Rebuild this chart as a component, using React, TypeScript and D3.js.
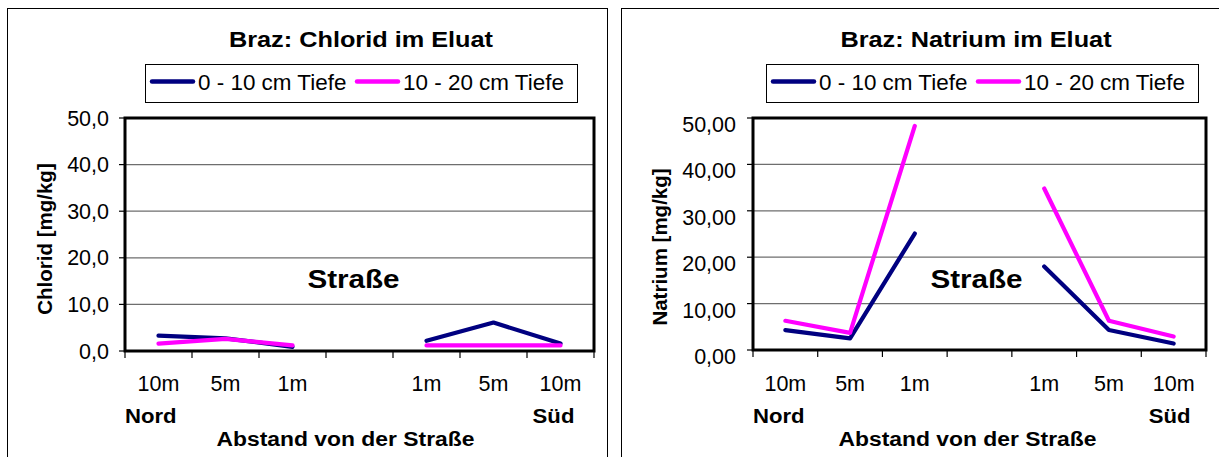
import React from 'react';
import * as d3 from 'd3';

// distance categories, Nord side -> gap (road) -> Süd side
const categories = ['10m', '5m', '1m', '', '1m', '5m', '10m'];
const seriesNames = ['0 - 10 cm Tiefe', '10 - 20 cm Tiefe'];
const seriesColors = ['#000080', '#ff00ff'];

const chloridTop = [3.3, 2.7, 0.9, null, 2.2, 6.1, 1.6];
const chloridSub = [1.6, 2.6, 1.2, null, 1.2, 1.2, 1.2];
const natriumTop = [4.3, 2.5, 25.1, null, 18.0, 4.3, 1.4];
const natriumSub = [6.3, 3.7, 48.3, null, 34.8, 6.3, 2.9];

const yTicks = [0, 10, 20, 30, 40, 50];

const FONT = "'Liberation Sans', Arial, Helvetica, sans-serif";

interface PanelProps {
  title: string;
  yLabel: string;
  series: (number | null)[][];
  fmt: (v: number) => string;
  plot: { x0: number; x1: number; y0: number; y1: number };
  frameX: number;
  frameW: number;
  yTitle: { x: number; y: number };
  tickEnd: number;
  tickDy: number;
  titleX: number;
  legendX: number;
  strasseDx: number;
  abstandDx: number;
  suedDx: number;
}

// horizontally stretched text (the source render has wide bold glyphs)
const SText: React.FC<{ x: number; y: number; sx?: number; size: number; bold?: boolean; anchor?: string; children: React.ReactNode }> = ({ x, y, sx = 1, size, bold, anchor = 'middle', children }) => (
  <text
    transform={`translate(${x},${y}) scale(${sx},1)`}
    fontFamily={FONT}
    fontSize={size}
    fontWeight={bold ? 'bold' : 'normal'}
    textAnchor={anchor}
    fill="#000"
  >
    {children}
  </text>
);

const Panel: React.FC<PanelProps> = (p) => {
  const { x0, x1, y0, y1 } = p.plot;
  const x = d3.scaleBand<number>().domain(categories.map((_, i) => i)).range([x0, x1]).padding(0);
  const y = d3.scaleLinear().domain([0, 50]).range([y1, y0]);
  const bw = x.bandwidth();
  const cx = (i: number) => (x(i) ?? 0) + bw / 2;
  const line = d3
    .line<number | null>()
    .defined(d => d != null)
    .x((_, i) => cx(i))
    .y(d => y(d as number));

  const boundaries = d3.range(categories.length + 1).map(i => x0 + i * bw);
  const midX = (x0 + x1) / 2;
  const lx = p.legendX;

  return (
    <g>
      <rect x={p.frameX + 0.5} y={8.5} width={p.frameW} height={470} fill="#fff" stroke="#000" strokeWidth={1} />

      <SText x={p.titleX} y={47} size={22} sx={1.15} bold>{p.title}</SText>

      {/* legend */}
      <rect x={lx + 0.5} y={64.5} width={432} height={38} fill="#fff" stroke="#000" strokeWidth={1} />
      {seriesNames.map((name, i) => {
        const off = i === 0 ? 7 : 212;
        return (
          <g key={name}>
            <line x1={lx + off} x2={lx + off + 41} y1={81.5} y2={81.5} stroke={seriesColors[i]} strokeWidth={4.5} strokeLinecap="round" />
            <SText x={lx + off + 46} y={90} size={22} sx={1.02} anchor="start">{name}</SText>
          </g>
        );
      })}

      {/* gridlines */}
      {yTicks.filter(t => t > 0 && t < 50).map(t => (
        <line key={t} x1={x0} x2={x1} y1={y(t)} y2={y(t)} stroke="#6e6e6e" strokeWidth={1.3} />
      ))}

      {/* y ticks + labels */}
      {yTicks.map(t => (
        <g key={t}>
          <line x1={x0 - 6} x2={x0} y1={y(t)} y2={y(t)} stroke="#000" strokeWidth={1.2} />
          <text x={p.tickEnd} y={y(t) + p.tickDy} fontFamily={FONT} fontSize={21.5} textAnchor="end" fill="#000">
            {p.fmt(t)}
          </text>
        </g>
      ))}

      {/* x ticks */}
      {boundaries.map((bx, i) => (
        <line key={i} x1={bx} x2={bx} y1={y1} y2={y1 + 7} stroke="#000" strokeWidth={1.2} />
      ))}
      {categories.map((c, i) => (
        <text key={i} x={cx(i)} y={391} fontFamily={FONT} fontSize={21.5} textAnchor="middle" fill="#000">{c}</text>
      ))}

      {/* series */}
      {p.series.map((s, i) => (
        <path key={i} d={line(s) ?? ''} fill="none" stroke={seriesColors[i]} strokeWidth={4.2} strokeLinejoin="round" strokeLinecap="round" />
      ))}

      {/* plot frame */}
      <rect x={x0} y={y0} width={x1 - x0} height={y1 - y0} fill="none" stroke="#000" strokeWidth={3} />

      <SText x={midX + p.strasseDx} y={288} size={26} sx={1.14} bold>Straße</SText>

      <SText x={x0} y={423} size={20.5} sx={1.08} bold anchor="start">Nord</SText>
      <SText x={cx(categories.length - 1) + p.suedDx} y={423} size={20.5} sx={1.08} bold>Süd</SText>
      <SText x={midX + p.abstandDx} y={446} size={21} sx={1.09} bold>Abstand von der Straße</SText>

      <text
        transform={`translate(${p.yTitle.x},${p.yTitle.y}) rotate(-90)`}
        fontFamily={FONT}
        fontSize={20.5}
        fontWeight="bold"
        textAnchor="middle"
        fill="#000"
      >
        {p.yLabel}
      </text>
    </g>
  );
};

export default function App() {
  const f1 = (v: number) => d3.format('.1f')(v).replace('.', ',');
  const f2 = (v: number) => d3.format('.2f')(v).replace('.', ',');
  return (
    <div style={{ position: 'absolute', left: 0, top: 0 }}>
      <svg width={1219} height={457} style={{ display: 'block', background: '#fff' }}>
        <Panel
          title="Braz: Chlorid im Eluat"
          yLabel="Chlorid [mg/kg]"
          series={[chloridTop, chloridSub]}
          fmt={f1}
          plot={{ x0: 125, x1: 594, y0: 118, y1: 351 }}
          frameX={7}
          frameW={600}
          yTitle={{ x: 52, y: 239 }}
          tickEnd={109}
          tickDy={7.5}
          titleX={361}
          legendX={145}
          strasseDx={-6}
          abstandDx={-14}
          suedDx={-7}
        />
        <Panel
          title="Braz: Natrium im Eluat"
          yLabel="Natrium [mg/kg]"
          series={[natriumTop, natriumSub]}
          fmt={f2}
          plot={{ x0: 753, x1: 1206, y0: 118, y1: 350 }}
          frameX={621}
          frameW={620}
          yTitle={{ x: 667, y: 247 }}
          tickEnd={736}
          tickDy={14}
          titleX={976}
          legendX={766}
          strasseDx={-3}
          abstandDx={-12}
          suedDx={-4}
        />
      </svg>
    </div>
  );
}
